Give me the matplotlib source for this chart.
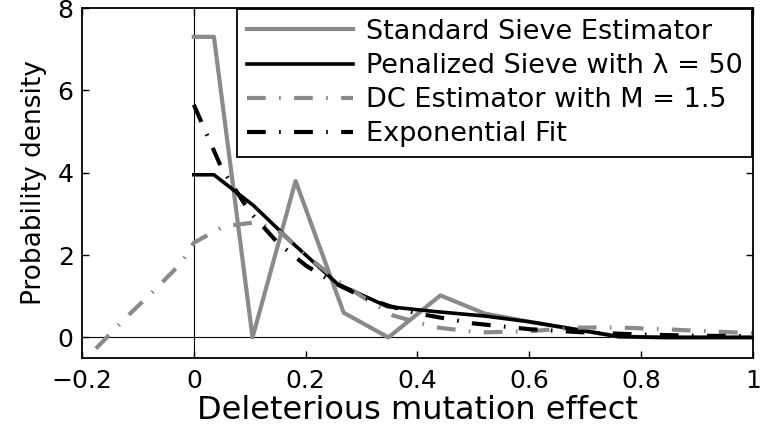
import matplotlib
matplotlib.use("Agg")
import matplotlib.pyplot as plt

plt.rcParams['font.family'] = ['DejaVu Sans']

# Standard sieve estimator (gray solid)
std_x = [0, 0.036, 0.105, 0.182, 0.268, 0.348, 0.441, 0.52, 0.6, 0.68, 0.76, 0.84, 0.92, 1.0]
std_y = [7.3, 7.3, 0.0, 3.8, 0.6, 0.0, 1.02, 0.58, 0.38, 0.2, 0.02, 0.0, 0.0, 0.0]

# Penalized sieve, lambda = 50 (black solid)
pen_x = [0, 0.036, 0.107, 0.18, 0.257, 0.346, 0.43, 0.52, 0.6, 0.68, 0.76, 0.84, 0.92, 1.0]
pen_y = [3.95, 3.95, 3.2, 2.25, 1.3, 0.75, 0.63, 0.52, 0.38, 0.2, 0.02, 0.0, 0.0, 0.0]

# DC estimator, M = 1.5 (gray dash-dot)
dc_x = [-0.175, -0.12, -0.07, -0.023, 0, 0.054, 0.114, 0.155, 0.2, 0.26, 0.3, 0.357,
        0.43, 0.51, 0.6, 0.686, 0.76, 0.84, 0.92, 1.0]
dc_y = [-0.27, 0.5, 1.15, 1.8, 2.3, 2.7, 2.8, 2.55, 2.0, 1.35, 1.0, 0.53,
        0.25, 0.12, 0.15, 0.24, 0.24, 0.2, 0.15, 0.1]

# Exponential fit (black dash-dot)
exp_x = [0, 0.05, 0.1, 0.15, 0.2, 0.25, 0.3, 0.35, 0.4, 0.5, 0.6, 0.7, 0.8, 0.9, 1.0]
exp_y = [5.65, 4.1, 3.05, 2.3, 1.75, 1.33, 1.0, 0.76, 0.58, 0.34, 0.2, 0.12, 0.07, 0.04, 0.03]

xticks = [-0.2, 0, 0.2, 0.4, 0.6, 0.8, 1]
xticklabels = ["\u22120.2", "0", "0.2", "0.4", "0.6", "0.8", "1"]
yticks = [0, 2, 4, 6, 8]

fig = plt.figure(figsize=(7.64, 4.33), dpi=100)
ax = fig.add_axes([0.1073, 0.1732, 0.8783, 0.8083])

gray = "#8a8a8a"
dashdot = (0, (4.5, 3.2, 0.4, 3.2))

ax.axvline(0, color="black", lw=0.8, zorder=1)
ax.axhline(0, color="black", lw=0.8, zorder=1)

ax.plot(std_x, std_y, color=gray, lw=3, label="Standard Sieve Estimator")
ax.plot(pen_x, pen_y, color="black", lw=2.6, label="Penalized Sieve with \u03bb = 50")
ax.plot(dc_x, dc_y, color=gray, lw=3, linestyle=dashdot, label="DC Estimator with M = 1.5")
ax.plot(exp_x, exp_y, color="black", lw=3, linestyle=dashdot, label="Exponential Fit")

ax.set_xlim(-0.2, 1)
ax.set_ylim(-0.5, 8)
ax.set_xticks(xticks)
ax.set_xticklabels(xticklabels)
ax.set_yticks(yticks)
ax.tick_params(direction="in", top=True, right=True, length=5, width=1, labelsize=18)
ax.tick_params(axis="x", pad=8)
ax.tick_params(axis="y", pad=6)
for s in ax.spines.values():
    s.set_linewidth(1.3)

ax.set_xlabel("Deleterious mutation effect", fontsize=23, labelpad=1)
ax.set_ylabel("Probability density", fontsize=19, labelpad=8)

leg = ax.legend(loc="upper right", bbox_to_anchor=(0.999, 0.996), borderaxespad=0,
                fontsize=19.5, handlelength=3.9, handletextpad=0.5, labelspacing=0.3,
                borderpad=0.35, fancybox=False, framealpha=1, edgecolor="black")
leg.get_frame().set_linewidth(1.3)

plt.savefig("out.png", dpi=100)
